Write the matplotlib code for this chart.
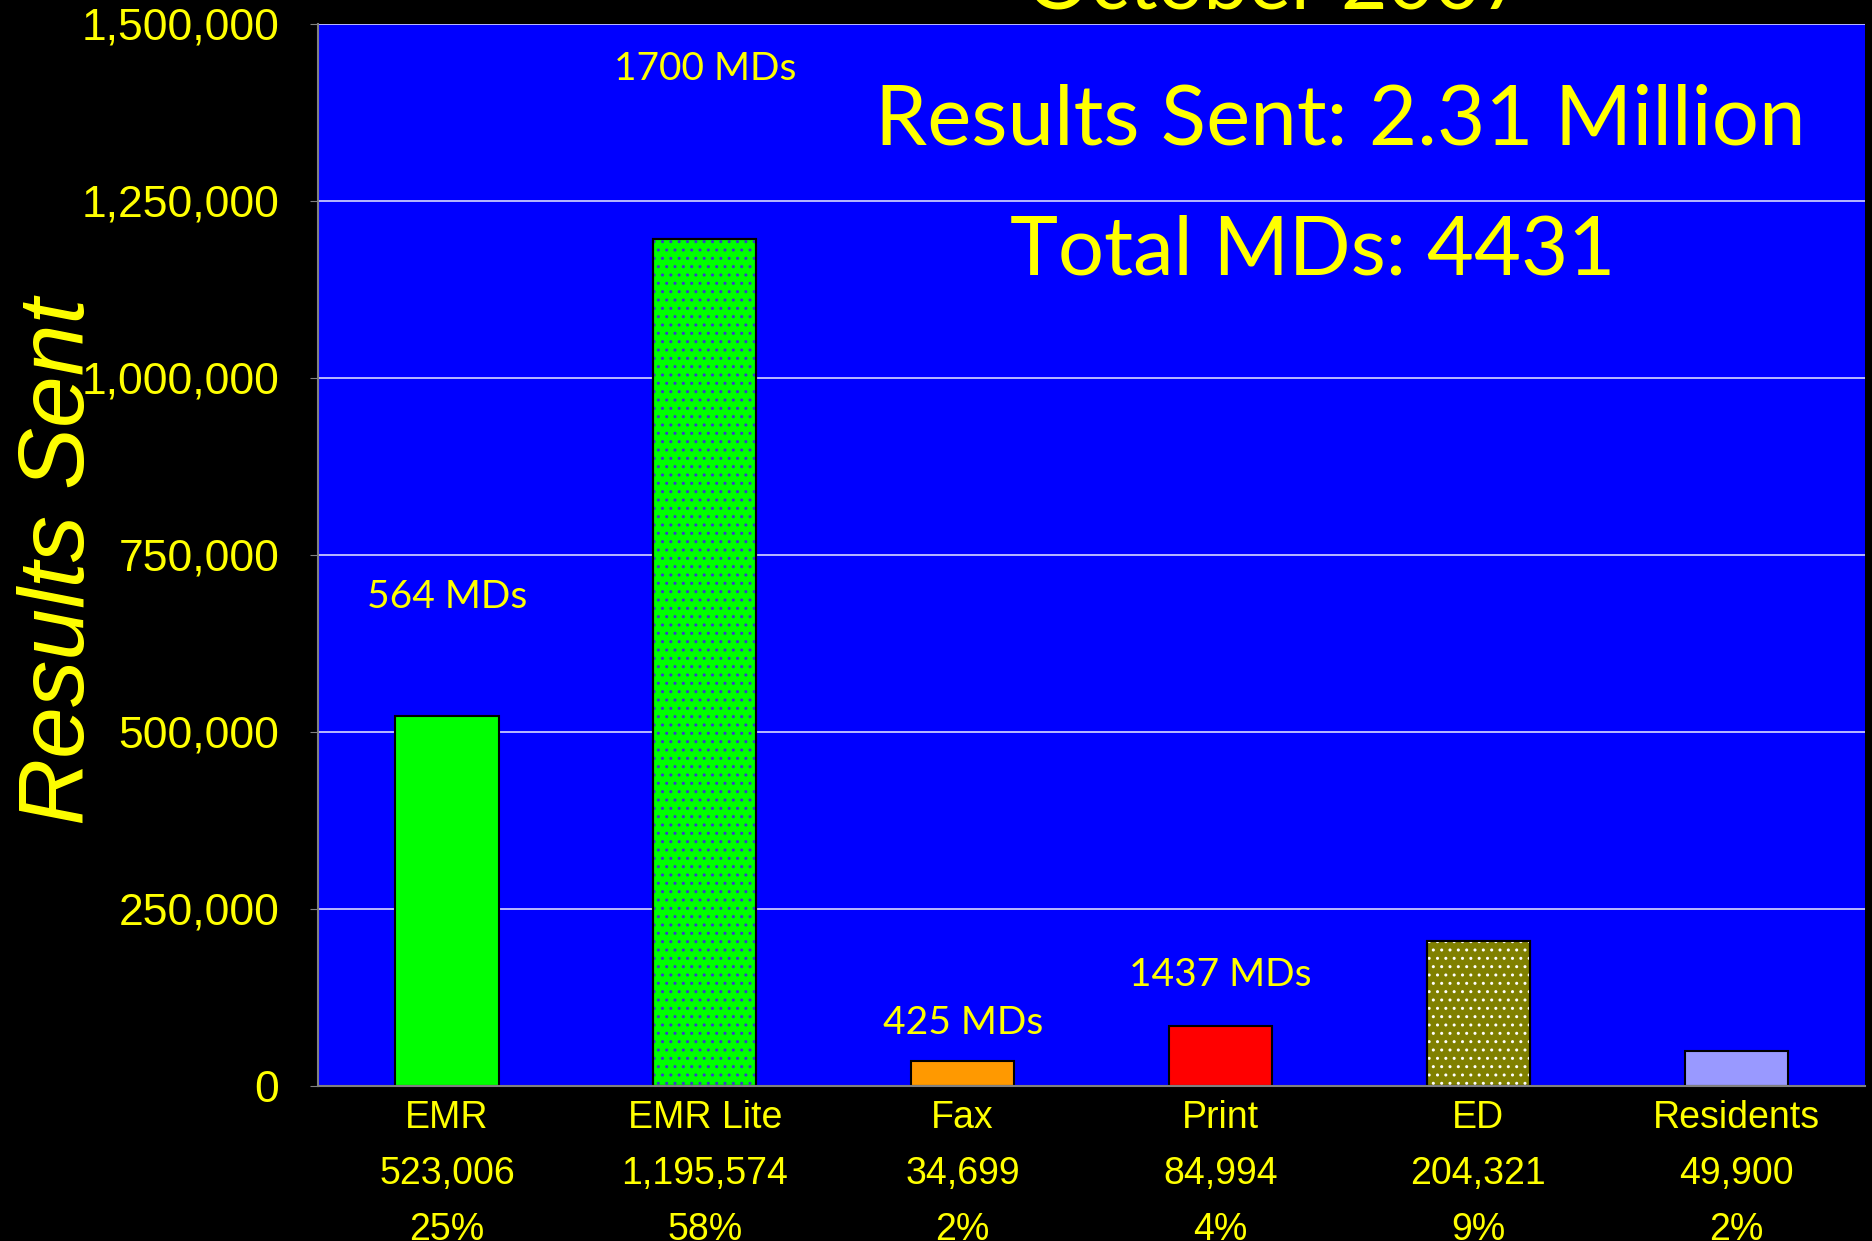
import matplotlib
matplotlib.use("Agg")
import matplotlib.pyplot as plt

# data
categories = ["EMR", "EMR Lite", "Fax", "Print", "ED", "Residents"]
results = [523006, 1195574, 34699, 84994, 204321, 49900]
value_labels = ["523,006", "1,195,574", "34,699", "84,994", "204,321", "49,900"]
pct_labels = ["25%", "58%", "2%", "4%", "9%", "2%"]
bar_colors = ["#00FF00", "#00FF00", "#FF9900", "#FF0000", "#808000", "#9999FF"]
hatches = [None, "..", None, None, "..", None]
hatch_colors = [None, "#3A3AD0", None, None, "#FFFFFF", None]

# MD counts shown above some bars: (category index, y position, text)
md_notes = [(0, 691000, "564 MDs"), (1, 1436000, "1700 MDs"),
            (2, 89000, "425 MDs"), (3, 157000, "1437 MDs")]

yticks = [0, 250000, 500000, 750000, 1000000, 1250000, 1500000]

YELLOW = "#FFFF00"

fig = plt.figure(figsize=(18.72, 12.41), dpi=100, facecolor="black")
ax = fig.add_axes([0.1699, 0.1249, 0.8264, 0.8558])
ax.set_facecolor("#0000FF")

x = list(range(len(categories)))
ax.bar(x, results, width=0.40, color=bar_colors, edgecolor="black",
       linewidth=1.5, zorder=3)
# dotted fill patterns on top, hatch colour comes from edgecolor
for i in x:
    if hatches[i]:
        ax.bar(i, results[i], width=0.40, color="none", edgecolor=hatch_colors[i],
               hatch=hatches[i], linewidth=0, zorder=4)
        ax.bar(i, results[i], width=0.40, color="none", edgecolor="black",
               linewidth=1.5, zorder=5)

ax.set_xlim(-0.5, 5.5)
ax.set_ylim(0, 1500000)
ax.set_yticks(yticks)
ax.set_yticklabels([f"{v:,}" for v in yticks], fontsize=32,
                   family="Liberation Sans", color=YELLOW)
ax.set_xticks(x)
ax.set_xticklabels([f"{c}\n{v}\n{p}" for c, v, p in zip(categories, value_labels, pct_labels)],
                   fontsize=27, family="Liberation Sans", color=YELLOW,
                   linespacing=1.72, va="top")
ax.tick_params(axis="y", length=6, pad=22, color="#808080")
ax.tick_params(axis="x", length=0, pad=10)

ax.grid(axis="y", color="#D8D8FF", linewidth=1.2, zorder=1)
ax.set_axisbelow(True)
for side in ["top", "right"]:
    ax.spines[side].set_visible(False)
for side in ["left", "bottom"]:
    ax.spines[side].set_color("#808080")
    ax.spines[side].set_linewidth(1.5)
    ax.spines[side].set_zorder(6)

ax.set_ylabel("Results Sent", fontsize=67, style="italic",
              family="Liberation Sans", color=YELLOW, labelpad=0)
ax.yaxis.set_label_coords(-0.139, 0.494)

for i, y, txt in md_notes:
    ax.text(i, y, txt, ha="center", va="center", fontsize=28,
            family="Lato", color=YELLOW, zorder=6)

ax.text(0.661, 0.908, "Results Sent: 2.31 Million", transform=ax.transAxes,
        ha="center", va="center", fontsize=60, family="Lato", color=YELLOW)
ax.text(0.643, 0.786, "Total MDs: 4431", transform=ax.transAxes,
        ha="center", va="center", fontsize=58.5, family="Lato", color=YELLOW)

# title sits mostly above the visible area
fig.text(0.682, 0.993, "October 2007", ha="center", va="baseline",
         fontsize=58, family="Lato", color=YELLOW)

fig.savefig("out.png", dpi=100, facecolor="black")
